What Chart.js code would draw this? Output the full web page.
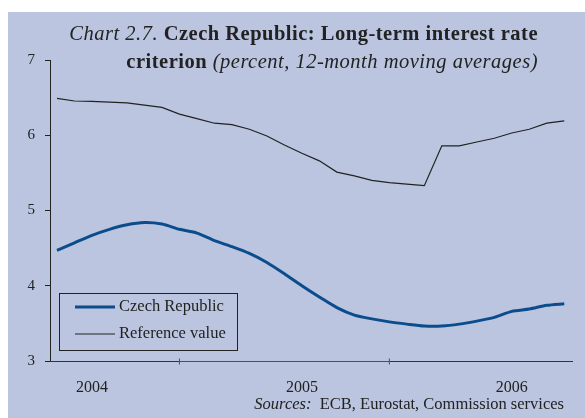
<!DOCTYPE html>
<html lang="en">
<head>
    <meta charset="UTF-8">
    <title>Czech Republic: Long-term interest rate criterion</title>
    <style>
        body {
            margin: 0;
            background: #fff;
            font-family: "Liberation Serif", "Times New Roman", serif;
            color: #222;
        }
        .panel {
            position: absolute;
            left: 8px;
            top: 12px;
            width: 577px;
            height: 406px;
            background: #bbc5df;
        }
        #chart {
            position: absolute;
            left: 0;
            top: 0;
        }
        .title {
            position: absolute;
            right: 47px;
            top: 19px;
            text-align: right;
            font-size: 20.5px;
            letter-spacing: 0.5px;
            line-height: 28px;
            white-space: nowrap;
        }
        .sources {
            position: absolute;
            right: 21px;
            top: 395px;
            font-size: 16.5px;
            line-height: 18px;
            white-space: nowrap;
        }
    </style>
    <script src="https://cdn.jsdelivr.net/npm/chart.js"></script>
</head>
<body>
    <div class="panel"></div>
    <canvas id="chart" width="585" height="418"></canvas>
    <div class="title">
        <div><i>Chart 2.7.</i> <b>Czech Republic: Long-term interest rate</b></div>
        <div><b>criterion</b> <i>(percent, 12-month moving averages)</i></div>
    </div>
    <div class="sources"><i>Sources:</i>&nbsp; ECB, Eurostat, Commission services</div>

    <script>
        const months = ['m1','m2','m3','m4','m5','m6','m7','m8','m9','m10',
                        'm11','m12','m13','m14','m15','m16','m17','m18','m19','m20',
                        'm21','m22','m23','m24','m25','m26','m27','m28','m29','m30'];
        const czechRepublic = [4.47, 4.57, 4.67, 4.75, 4.81, 4.84, 4.82, 4.75, 4.70, 4.60,
                               4.52, 4.43, 4.31, 4.16, 4.00, 3.85, 3.71, 3.61, 3.56, 3.52,
                               3.49, 3.465, 3.465, 3.49, 3.53, 3.58, 3.66, 3.69, 3.74, 3.76];
        const referenceValue = [6.49, 6.455, 6.45, 6.44, 6.43, 6.40, 6.37, 6.28, 6.22, 6.16,
                                6.14, 6.08, 5.99, 5.87, 5.76, 5.66, 5.51, 5.46, 5.40, 5.37,
                                5.35, 5.33, 5.86, 5.86, 5.91, 5.96, 6.03, 6.08, 6.16, 6.19];
        const yearLabels = ['2004', '2005', '2006'];
        const yearLabelAt = [2, 14, 26];
        const yearMarkAt = [7, 19];

        const serif = '"Liberation Serif", "Times New Roman", serif';
        const blue = '#0b4d8c';
        const dark = '#222';

        const toPoints = arr => arr.map((v, i) => ({ x: i, y: v }));

        // x axis line with the coloured middle stretch
        const axisLine = {
            id: 'axisLine',
            afterDatasetsDraw(chart) {
                const ctx = chart.ctx;
                const x = chart.scales.x;
                const area = chart.chartArea;
                const y = area.bottom + 0.5;
                const a = x.getPixelForValue(yearMarkAt[0]);
                const b = x.getPixelForValue(yearMarkAt[1]);
                ctx.save();
                ctx.lineWidth = 1;
                ctx.strokeStyle = '#333';
                ctx.beginPath();
                ctx.moveTo(area.left, y); ctx.lineTo(a, y);
                ctx.moveTo(b, y); ctx.lineTo(area.right, y);
                ctx.stroke();
                ctx.strokeStyle = '#2f4fa8';
                ctx.beginPath();
                ctx.moveTo(a, y); ctx.lineTo(b, y);
                ctx.moveTo(a, y - 3); ctx.lineTo(a, y + 3);
                ctx.moveTo(b, y - 3); ctx.lineTo(b, y + 3);
                ctx.stroke();
                ctx.restore();
            }
        };

        // boxed legend inside the plot area
        const boxLegend = {
            id: 'boxLegend',
            afterDraw(chart) {
                const ctx = chart.ctx;
                const area = chart.chartArea;
                const left = area.left + 9, top = area.bottom - 68;
                ctx.save();
                ctx.strokeStyle = dark;
                ctx.lineWidth = 1;
                ctx.strokeRect(left + 0.5, top + 0.5, 178, 57);
                ctx.font = '16.5px ' + serif;
                ctx.fillStyle = dark;
                ctx.textBaseline = 'middle';
                chart.data.datasets.forEach((ds, i) => {
                    const cy = top + 14 + i * 27;
                    ctx.strokeStyle = ds.borderColor;
                    ctx.lineWidth = ds.borderWidth;
                    ctx.beginPath();
                    ctx.moveTo(left + 16, cy);
                    ctx.lineTo(left + 56, cy);
                    ctx.stroke();
                    ctx.fillText(ds.label, left + 60, cy);
                });
                ctx.restore();
            }
        };

        new Chart(document.getElementById('chart'), {
            type: 'line',
            data: {
                labels: months,
                datasets: [{
                    label: 'Czech Republic',
                    data: toPoints(czechRepublic),
                    borderColor: blue,
                    borderWidth: 3,
                    pointRadius: 0,
                    tension: 0.25,
                    fill: false
                }, {
                    label: 'Reference value',
                    data: toPoints(referenceValue),
                    borderColor: dark,
                    borderWidth: 1.2,
                    pointRadius: 0,
                    tension: 0,
                    fill: false
                }]
            },
            options: {
                responsive: false,
                animation: false,
                layout: { padding: { left: 0, right: 12, top: 60, bottom: 0 } },
                plugins: {
                    legend: { display: false },
                    tooltip: { enabled: false }
                },
                scales: {
                    x: {
                        type: 'linear',
                        min: -0.4,
                        max: 29.5,
                        afterBuildTicks: scale => {
                            scale.ticks = yearLabelAt.map(v => ({ value: v }));
                        },
                        afterFit: scale => { scale.height = 57; },
                        grid: { display: false, drawTicks: false },
                        border: { display: false },
                        ticks: {
                            autoSkip: false,
                            maxRotation: 0,
                            padding: 17,
                            color: dark,
                            font: { family: serif, size: 16 },
                            callback: value => yearLabels[yearLabelAt.indexOf(value)]
                        }
                    },
                    y: {
                        min: 3,
                        max: 7,
                        afterFit: scale => { scale.width = 50; },
                        grid: {
                            drawOnChartArea: false,
                            drawTicks: true,
                            tickLength: 5,
                            color: dark
                        },
                        border: { display: true, color: dark, width: 1 },
                        ticks: {
                            stepSize: 1,
                            padding: 10,
                            color: dark,
                            font: { family: serif, size: 15 }
                        }
                    }
                }
            },
            plugins: [axisLine, boxLegend]
        });
    </script>
</body>
</html>
